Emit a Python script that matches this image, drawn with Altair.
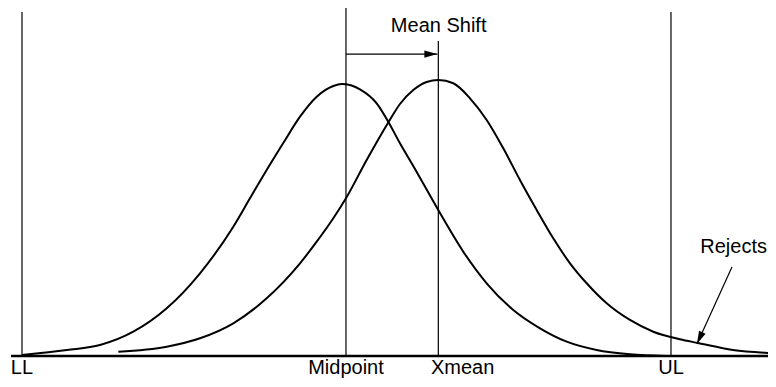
import altair as alt
import pandas as pd

# x: units where LL = 0 and UL = 100; y: % of the centred curve's peak height
centered_x = [0, 6.93, 12.02, 17.15, 22.30, 27.43, 32.56, 35.13, 37.70, 40.26, 42.84,
              45.41, 47.97, 49.26, 52.08, 54.65, 56.44, 58.24, 60.29, 64.14, 68.00,
              71.60, 75.70, 79.82, 83.93, 88.55, 93.68, 99.34]
centered_y = [0.37, 2.21, 4.04, 8.93, 17.54, 30.40, 47.54, 57.98, 68.38, 78.3, 87.98,
              95.33, 99.26, 100.0, 98.05, 92.90, 86.14, 78.20, 69.85, 53.68, 38.35,
              26.73, 16.91, 10.18, 5.26, 2.21, 0.63, 0.0]
shifted_x = [14.84, 22.30, 27.43, 32.56, 37.70, 42.84, 45.41, 47.97, 49.92, 53.11, 56.44,
             58.24, 60.29, 62.36, 64.15, 66.46, 69.03, 71.60, 74.16, 76.73, 79.31, 81.86,
             84.44, 87.01, 90.09, 93.68, 97.27, 101.39, 104.16, 109.55, 115.10]
shifted_y = [1.58, 3.42, 6.51, 12.02, 21.21, 34.08, 42.02, 50.63, 57.98, 72.06, 85.85,
             92.65, 97.79, 100.74, 101.47, 100.26, 94.74, 86.76, 76.36, 64.71, 53.68, 43.27,
             34.08, 26.73, 19.38, 13.24, 8.93, 6.14, 4.78, 2.21, 1.10]

marker_names = ["LL", "Midpoint", "Xmean", "UL"]
marker_x = [0, 49.92, 64.15, 100]
marker_top = [126.5, 129.0, 115.8, 126.5]
label_x = [0, 49.92, 67.9, 100]
label_y = -6.8

baseline_x = [-1.7, 116.0]
shift_from, shift_to, shift_level = 49.92, 64.0, 111.0
shift_text, shift_text_x, shift_text_y = "Mean Shift", 64.2, 119.1
rejects_text, rejects_text_x, rejects_text_y = "Rejects", 114.79, 37.9
rejects_from = (109.4, 32.7)
rejects_to = (104.0, 4.4)

FONT = "Liberation Sans"
XS = alt.Scale(domain=[-2.157, 114.95], nice=False, zero=False)
YS = alt.Scale(domain=[-8.46, 127.94], nice=False, zero=False)
ARROW = "M0,0L0.55,2L-0.55,2Z"

curves = pd.concat([
    pd.DataFrame({"x": centered_x, "y": centered_y, "curve": "Midpoint"}),
    pd.DataFrame({"x": shifted_x, "y": shifted_y, "curve": "Xmean"}),
])
curve_layer = alt.Chart(curves).mark_line(
    color="black", strokeWidth=2, interpolate="monotone"
).encode(
    x=alt.X("x:Q", scale=XS, axis=None),
    y=alt.Y("y:Q", scale=YS, axis=None),
    detail="curve:N",
)

markers = pd.DataFrame({"name": marker_names, "x": marker_x, "top": marker_top,
                        "bottom": [0] * 4, "lx": label_x, "ly": [label_y] * 4})
rule_layer = alt.Chart(markers).mark_rule(color="black", strokeWidth=1.2).encode(
    x=alt.X("x:Q", scale=XS, axis=None),
    y=alt.Y("bottom:Q", scale=YS, axis=None),
    y2="top:Q",
)
label_layer = alt.Chart(markers).mark_text(
    font=FONT, fontSize=20, color="black", baseline="alphabetic", align="center"
).encode(
    x=alt.X("lx:Q", scale=XS, axis=None),
    y=alt.Y("ly:Q", scale=YS, axis=None),
    text="name:N",
)

base_df = pd.DataFrame({"x": [baseline_x[0]], "x2": [baseline_x[1]], "y": [0]})
baseline_layer = alt.Chart(base_df).mark_rule(color="black", strokeWidth=2.6).encode(
    x=alt.X("x:Q", scale=XS, axis=None),
    x2="x2:Q",
    y=alt.Y("y:Q", scale=YS, axis=None),
)

arrows = pd.DataFrame({
    "x": [shift_from, rejects_from[0]],
    "y": [shift_level, rejects_from[1]],
    "x2": [shift_to, rejects_to[0]],
    "y2": [shift_level, rejects_to[1]],
    "angle": [90, 204.4],
})
arrow_line = alt.Chart(arrows).mark_rule(color="black", strokeWidth=1.2).encode(
    x=alt.X("x:Q", scale=XS, axis=None),
    y=alt.Y("y:Q", scale=YS, axis=None),
    x2="x2:Q",
    y2="y2:Q",
)
arrow_head = alt.Chart(arrows).mark_point(
    shape=ARROW, filled=True, color="black", size=169, opacity=1, strokeWidth=0
).encode(
    x=alt.X("x2:Q", scale=XS, axis=None),
    y=alt.Y("y2:Q", scale=YS, axis=None),
    angle=alt.Angle("angle:Q", scale=None),
)

shift_label = alt.Chart(pd.DataFrame({"t": [shift_text], "x": [shift_text_x], "y": [shift_text_y]})).mark_text(
    font=FONT, fontSize=20, color="black", baseline="alphabetic", align="center"
).encode(x=alt.X("x:Q", scale=XS, axis=None), y=alt.Y("y:Q", scale=YS, axis=None), text="t:N")
rejects_label = alt.Chart(pd.DataFrame({"t": [rejects_text], "x": [rejects_text_x], "y": [rejects_text_y]})).mark_text(
    font=FONT, fontSize=20, color="black", baseline="alphabetic", align="right"
).encode(x=alt.X("x:Q", scale=XS, axis=None), y=alt.Y("y:Q", scale=YS, axis=None), text="t:N")

chart = alt.layer(
    rule_layer, baseline_layer, curve_layer, arrow_line, arrow_head,
    label_layer, shift_label, rejects_label,
).properties(
    width=760, height=371, autosize="none", padding=0, background="white"
).configure_view(stroke=None)

chart.save("out.html", embed_options={"renderer": "svg", "actions": False})
